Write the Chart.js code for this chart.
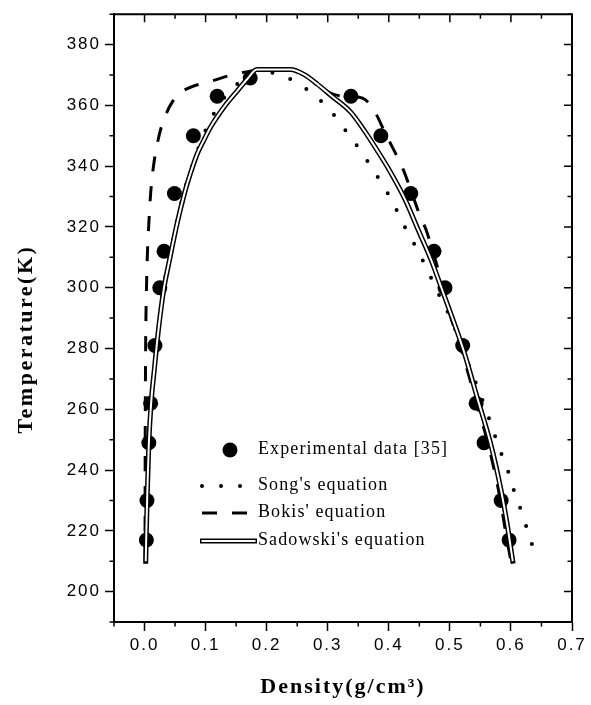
<!DOCTYPE html>
<html>
<head>
<meta charset="utf-8">
<title>Temperature vs density</title>
<script src="https://cdn.jsdelivr.net/npm/chart.js@4.4.1/dist/chart.umd.min.js"></script>
<style>
  html, body { margin: 0; padding: 0; background: #fff; }
  #chart { display: block; }
</style>
</head>
<body>
<canvas id="chart" width="591" height="705"></canvas>
<script>
// experimental coexistence points, gas branch then liquid branch
const expDensity = [0.003, 0.004, 0.007, 0.010, 0.017, 0.025, 0.032, 0.049, 0.080, 0.119, 0.173,
                    0.338, 0.387, 0.436, 0.474, 0.492, 0.521, 0.543, 0.556, 0.584, 0.597];
const expTemp = [217, 230, 249, 262, 281, 300, 312, 331, 350, 363, 369,
                 363, 350, 331, 312, 300, 281, 262, 249, 230, 217];

// Song's equation
const songDensity = [0.002, 0.003, 0.0045, 0.007, 0.011, 0.016, 0.021, 0.030, 0.039, 0.052, 0.064,
                     0.083, 0.105, 0.125, 0.145, 0.170, 0.200, 0.222, 0.239, 0.254, 0.269, 0.283,
                     0.297, 0.310, 0.332, 0.354, 0.373, 0.391, 0.408, 0.422, 0.438, 0.452, 0.464,
                     0.474, 0.488, 0.502, 0.520, 0.535, 0.548, 0.564, 0.575, 0.585, 0.596, 0.605,
                     0.615, 0.625, 0.634, 0.645];
const songTemp = [210, 220, 232, 248, 262, 273, 283, 299, 308, 321, 331,
                  343, 354, 361, 365.8, 369.3, 370.8, 370.2, 368.6, 366.8, 364.8, 362.5,
                  359.9, 356.9, 351, 345, 339.2, 333.5, 327.6, 321.6, 315.8, 310.4, 305.5,
                  301.2, 295.2, 289.8, 280, 272.5, 265.8, 257.1, 250.6, 245, 239.2, 233.2,
                  227.6, 221.5, 215.8, 210];

// Bokis' equation
const bokisDensity = [0.0008, 0.001, 0.0015, 0.002, 0.003, 0.0045, 0.007, 0.010, 0.015, 0.025, 0.035,
                      0.045, 0.060, 0.078, 0.095, 0.107, 0.130, 0.155, 0.175, 0.184, 0.239, 0.261,
                      0.283, 0.300, 0.318, 0.338, 0.358, 0.376, 0.395, 0.414, 0.424, 0.438, 0.451,
                      0.461, 0.472, 0.485, 0.499, 0.519, 0.541, 0.562, 0.580, 0.591, 0.600];
const bokisTemp = [210, 240, 270, 285, 298, 310, 321, 331, 340.5, 351, 357,
                   361, 364.3, 366.2, 367.2, 367.8, 369.3, 370.6, 371.3, 371.6, 371.6, 370,
                   367, 364.5, 363.2, 362.9, 362.3, 358.3, 350.5, 343, 338.7, 331, 323.7,
                   319.1, 312, 303, 292, 279.5, 264, 249, 233, 220, 210];

// Sadowski's equation
const sadowskiDensity = [0.002, 0.003, 0.0045, 0.007, 0.011, 0.016, 0.021, 0.0315, 0.040, 0.0535, 0.066,
                         0.075, 0.0864, 0.097, 0.108, 0.130, 0.152, 0.168, 0.184, 0.239, 0.261, 0.283,
                         0.305, 0.338, 0.360, 0.381, 0.404, 0.427, 0.448, 0.469, 0.485, 0.500, 0.523,
                         0.545, 0.567, 0.584, 0.594, 0.603];
const sadowskiTemp = [210, 220, 232, 248.5, 262.6, 273, 283, 299.5, 308.2, 321.3, 331.5,
                      337.5, 344.1, 348.5, 352.8, 359.4, 364.8, 368.6, 371.8, 371.8, 370.2, 367,
                      363.3, 357.7, 351.7, 345.2, 337.6, 328.9, 319.1, 309.3, 300.6, 292.3, 279,
                      263.7, 248.5, 233.2, 222, 210];

// axis ticks
const xTicks = [0, 0.1, 0.2, 0.3, 0.4, 0.5, 0.6, 0.7];
const xMinorTicks = [-0.05, 0.05, 0.15, 0.25, 0.35, 0.45, 0.55, 0.65];
const yTicks = [200, 220, 240, 260, 280, 300, 320, 340, 360, 380];
const yMinorTicks = [190, 210, 230, 250, 270, 290, 310, 330, 350, 370, 390];

function toPoints(xs, ys) {
  return xs.map((x, i) => ({ x: x, y: ys[i] }));
}

// boxed frame: top/right edges, minor ticks, inward ticks on the mirrored sides
const frame = {
  id: 'frame',
  beforeDraw(chart) {
    chart.ctx.letterSpacing = '2px';
  },
  afterDraw(chart) {
    const { ctx, chartArea: a, scales: { x, y } } = chart;
    ctx.save();
    ctx.strokeStyle = '#000';
    ctx.lineWidth = 2;
    ctx.beginPath();
    ctx.moveTo(a.left, a.top);
    ctx.lineTo(a.right, a.top);
    ctx.lineTo(a.right, a.bottom);
    ctx.stroke();

    ctx.lineWidth = 1.5;
    ctx.beginPath();
    xTicks.forEach(v => {
      const px = x.getPixelForValue(v);
      ctx.moveTo(px, a.top);
      ctx.lineTo(px, a.top + 8);
    });
    xMinorTicks.forEach(v => {
      const px = x.getPixelForValue(v);
      ctx.moveTo(px, a.top);
      ctx.lineTo(px, a.top + 4.5);
      ctx.moveTo(px, a.bottom);
      ctx.lineTo(px, a.bottom + 4.5);
    });
    yTicks.forEach(v => {
      const py = y.getPixelForValue(v);
      ctx.moveTo(a.right, py);
      ctx.lineTo(a.right - 8, py);
    });
    yMinorTicks.forEach(v => {
      const py = y.getPixelForValue(v);
      ctx.moveTo(a.right, py);
      ctx.lineTo(a.right - 4.5, py);
      ctx.moveTo(a.left, py);
      ctx.lineTo(a.left - 4.5, py);
    });
    ctx.stroke();

    // y title sits a bit below the middle of the axis
    ctx.translate(26, (a.top + a.bottom) / 2 + 21);
    ctx.rotate(-Math.PI / 2);
    ctx.font = 'bold 22px "Liberation Serif", "Times New Roman", serif';
    ctx.letterSpacing = '2.5px';
    ctx.fillStyle = '#000';
    ctx.textAlign = 'center';
    ctx.textBaseline = 'middle';
    ctx.fillText('Temperature(K)', 0, 0);
    ctx.restore();
  }
};

// legend inside the plot, one row per dataset that has a legendRow
const insetLegend = {
  id: 'insetLegend',
  afterDraw(chart, args, opts) {
    const ctx = chart.ctx;
    ctx.save();
    ctx.fillStyle = '#000';
    chart.data.datasets.forEach(ds => {
      if (ds.legendRow === undefined) return;
      const y = opts.top + opts.rowOffsets[ds.legendRow];
      const x0 = opts.left;
      ctx.setLineDash([]);
      if (ds.legendSymbol === 'circle') {
        ctx.beginPath();
        ctx.arc(x0 + 30, y, ds.pointRadius, 0, Math.PI * 2);
        ctx.fill();
      } else if (ds.legendSymbol === 'double') {
        ctx.lineCap = 'butt';
        ctx.strokeStyle = '#000';
        ctx.lineWidth = ds.borderWidth;
        ctx.beginPath();
        ctx.moveTo(x0, y);
        ctx.lineTo(x0 + 57, y);
        ctx.stroke();
        ctx.strokeStyle = '#fff';
        ctx.lineWidth = ds.borderWidth - 3;
        ctx.beginPath();
        ctx.moveTo(x0 + 1.5, y);
        ctx.lineTo(x0 + 55.5, y);
        ctx.stroke();
      } else {
        ctx.strokeStyle = ds.borderColor;
        ctx.lineWidth = ds.borderWidth;
        ctx.lineCap = ds.borderCapStyle || 'butt';
        ctx.setLineDash(ds.borderDash);
        ctx.beginPath();
        ctx.moveTo(x0 + 2, y);
        ctx.lineTo(x0 + 47, y);
        ctx.stroke();
      }
      ctx.font = opts.font;
      ctx.letterSpacing = opts.letterSpacing;
      ctx.textBaseline = 'middle';
      ctx.textAlign = 'left';
      ctx.fillText(ds.label, opts.textLeft, y - 1);
    });
    ctx.restore();
  }
};

const curveStyle = {
  showLine: true,
  pointRadius: 0,
  cubicInterpolationMode: 'monotone'
};

const data = {
  datasets: [
    Object.assign({}, curveStyle, {
      label: "Sadowski's equation (inner)",
      data: toPoints(sadowskiDensity, sadowskiTemp),
      borderColor: '#fff',
      borderWidth: 2,
      order: 0
    }),
    Object.assign({}, curveStyle, {
      label: "Sadowski's equation",
      data: toPoints(sadowskiDensity, sadowskiTemp),
      borderColor: '#000',
      borderWidth: 5,
      borderCapStyle: 'square',
      order: 1,
      legendRow: 3,
      legendSymbol: 'double'
    }),
    Object.assign({}, curveStyle, {
      label: "Bokis' equation",
      data: toPoints(bokisDensity, bokisTemp),
      borderColor: '#000',
      borderWidth: 3,
      borderDash: [15, 15],
      order: 2,
      legendRow: 2,
      legendSymbol: 'line'
    }),
    Object.assign({}, curveStyle, {
      label: "Song's equation",
      data: toPoints(songDensity, songTemp),
      borderColor: '#000',
      borderWidth: 4,
      borderDash: [0, 19],
      borderCapStyle: 'round',
      order: 3,
      legendRow: 1,
      legendSymbol: 'line'
    }),
    {
      label: 'Experimental data [35]',
      data: toPoints(expDensity, expTemp),
      showLine: false,
      pointRadius: 7.5,
      pointBackgroundColor: '#000',
      pointBorderWidth: 0,
      order: 4,
      legendRow: 0,
      legendSymbol: 'circle'
    }
  ]
};

const tickFont = { family: '"Liberation Sans", Arial, sans-serif', size: 17 };

new Chart(document.getElementById('chart'), {
  type: 'scatter',
  data: data,
  options: {
    responsive: false,
    animation: false,
    events: [],
    layout: { padding: { top: 10, right: 19, bottom: 0, left: 0 } },
    plugins: {
      legend: { display: false },
      tooltip: { enabled: false },
      insetLegend: {
        left: 200,
        top: 450,
        rowOffsets: [0, 36, 63, 91],
        textLeft: 258,
        font: '18px "Liberation Serif", "Times New Roman", serif',
        letterSpacing: '1.1px'
      }
    },
    scales: {
      x: {
        type: 'linear',
        position: 'bottom',
        min: -0.05,
        max: 0.7,
        afterBuildTicks: s => { s.ticks = xTicks.map(v => ({ value: v })); },
        afterFit: s => { s.height = 83; },
        ticks: {
          callback: v => v.toFixed(1),
          font: tickFont,
          color: '#000',
          padding: 4,
          maxRotation: 0
        },
        grid: {
          drawOnChartArea: false,
          drawTicks: true,
          tickLength: 9,
          tickWidth: 1.5,
          tickColor: '#000',
          color: '#000'
        },
        border: { display: true, color: '#000', width: 2 },
        title: {
          display: true,
          text: 'Density(g/cm³)',
          color: '#000',
          font: { family: '"Liberation Serif", "Times New Roman", serif', size: 22, weight: 'bold' },
          padding: { top: 0, bottom: 4 }
        }
      },
      y: {
        type: 'linear',
        position: 'left',
        min: 190,
        max: 390,
        afterBuildTicks: s => { s.ticks = yTicks.map(v => ({ value: v })); },
        afterFit: s => { s.width = 114; },
        ticks: {
          font: tickFont,
          color: '#000',
          padding: 4
        },
        grid: {
          drawOnChartArea: false,
          drawTicks: true,
          tickLength: 9,
          tickWidth: 1.5,
          tickColor: '#000',
          color: '#000'
        },
        border: { display: true, color: '#000', width: 2 }
      }
    }
  },
  plugins: [frame, insetLegend]
});
</script>
</body>
</html>
